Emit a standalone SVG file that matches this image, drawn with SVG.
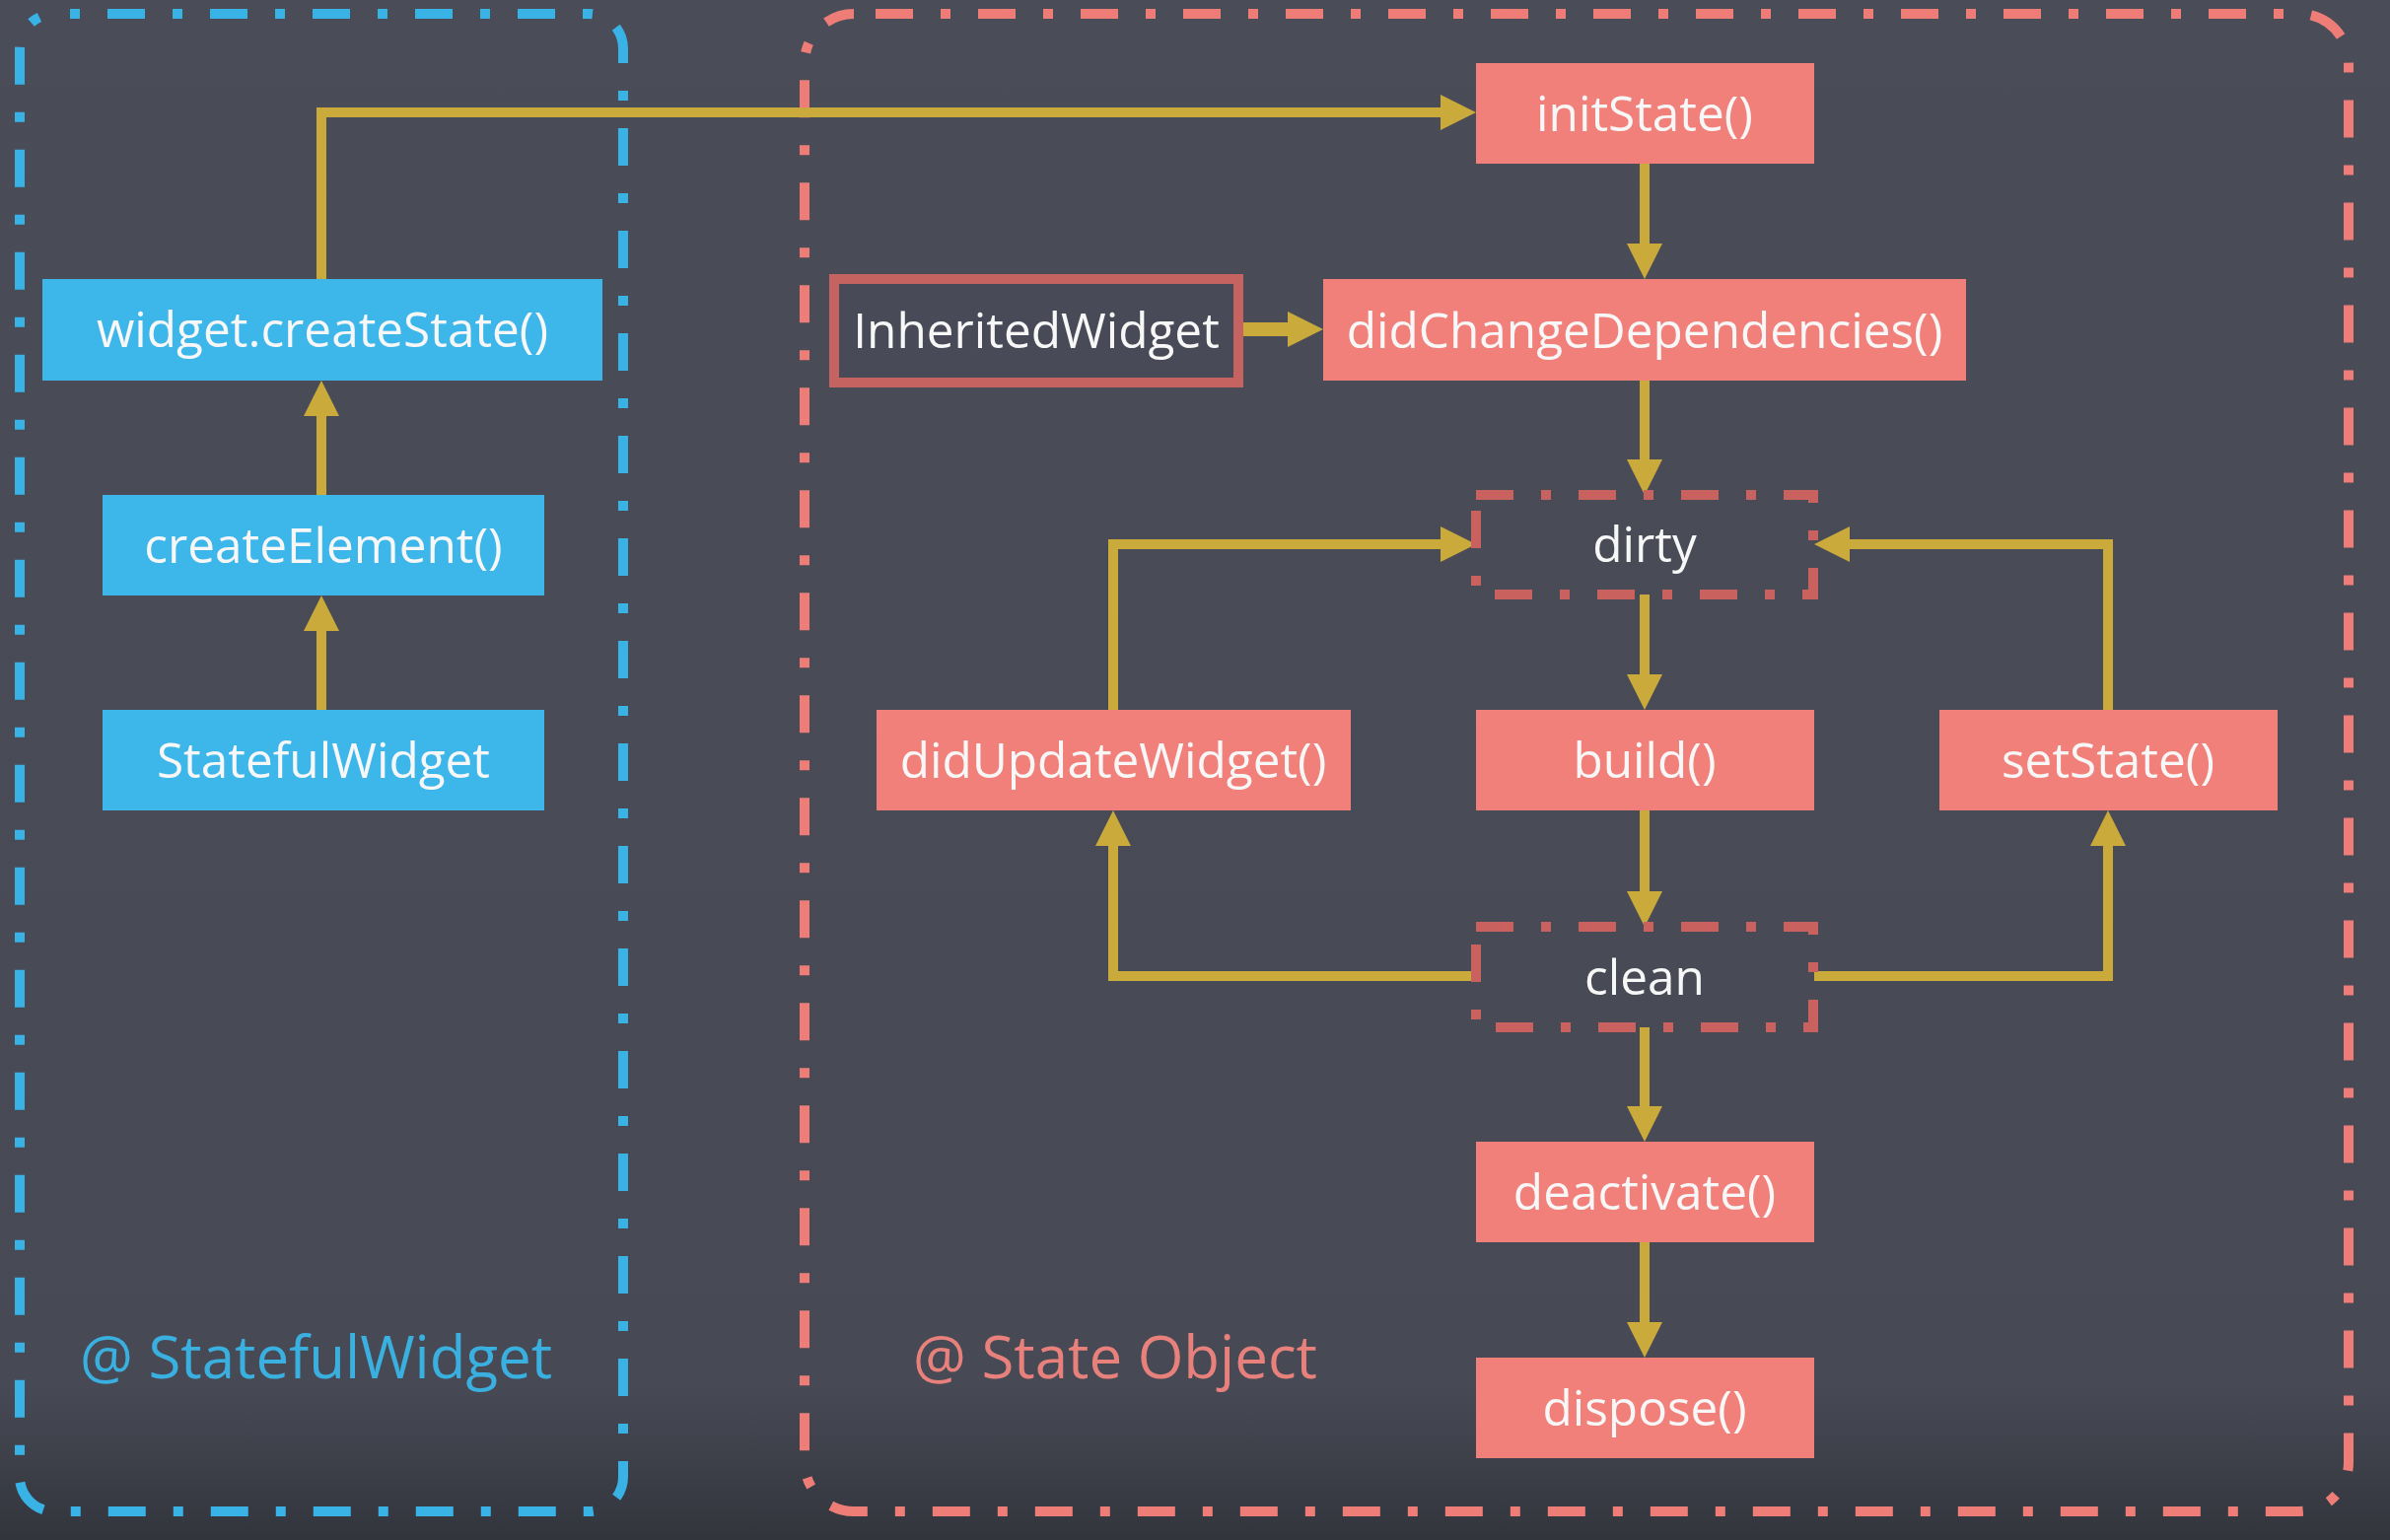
<svg xmlns="http://www.w3.org/2000/svg" width="2424" height="1562" viewBox="0 0 2424 1562">
<defs>
<linearGradient id="bg" x1="0" y1="0" x2="0" y2="1">
<stop offset="0" stop-color="#4a4d58"/>
<stop offset="0.9" stop-color="#474a55"/>
<stop offset="1" stop-color="#33353d"/>
</linearGradient>
<marker id="arr" markerUnits="userSpaceOnUse" markerWidth="36" markerHeight="36" viewBox="0 0 36 36" refX="6" refY="18" orient="auto">
<path d="M0,0 L36,18 L0,36 Z" fill="#c9aa3a"/>
</marker>
<style>
.blue{fill:#3db6ea}
.red{fill:#f2807a}
.t{font-family:"Open Sans","Noto Sans","Liberation Sans",sans-serif;font-size:49.5px;fill:#f7f7f7;text-anchor:middle}
.lbl{font-family:"Open Sans","Noto Sans","Liberation Sans",sans-serif;font-size:60px}
.frame{fill:none;stroke-width:10;stroke-dasharray:38 28 10 28}
.state{fill:none;stroke:#c9625f;stroke-width:10;stroke-dasharray:38 28 10 28}
.c{fill:none;stroke:#c9aa3a;stroke-width:10;marker-end:url(#arr)}
</style>
</defs>
<rect x="0" y="0" width="2424" height="1562" fill="url(#bg)"/>

<g id="frame-statefulwidget">
<rect class="frame" x="20" y="14" width="612" height="1519" rx="35" ry="35" stroke="#39b2e6" stroke-dashoffset="50"/>
<text class="lbl" x="81" y="1398" fill="#3ab0e0">@ StatefulWidget</text>
</g>
<g id="frame-stateobject">
<rect class="frame" x="816" y="14" width="1566" height="1519" rx="50" ry="50" stroke="#ee7d78" stroke-dashoffset="82"/>
<text class="lbl" x="926" y="1398" fill="#e8817c">@ State Object</text>
</g>

<g id="connectors">
<path class="c" d="M326,283 V114 H1467"/>
<path class="c" d="M326,502 V416"/>
<path class="c" d="M326,720 V634"/>
<path class="c" d="M1668,166 V253"/>
<path class="c" d="M1261,334 H1312" style="stroke-width:14"/>
<path class="c" d="M1668,386 V472"/>
<path class="c" d="M1668,603 V690"/>
<path class="c" d="M1668,822 V910"/>
<path class="c" d="M1668,1042 V1128"/>
<path class="c" d="M1668,1260 V1347"/>
<path class="c" d="M1129,720 V552 H1467"/>
<path class="c" d="M2138,720 V552 H1870"/>
<path class="c" d="M1497,990 H1129 V852"/>
<path class="c" d="M1840,990 H2138 V852"/>
</g>

<g id="node-widget-createstate">
<rect class="blue" x="43" y="283" width="568" height="103"/>
<text class="t" x="327" y="352">widget.createState()</text>
</g>
<g id="node-createelement">
<rect class="blue" x="104" y="502" width="448" height="102"/>
<text class="t" x="328" y="571">createElement()</text>
</g>
<g id="node-statefulwidget">
<rect class="blue" x="104" y="720" width="448" height="102"/>
<text class="t" x="328" y="789">StatefulWidget</text>
</g>

<g id="node-initstate">
<rect class="red" x="1497" y="64" width="343" height="102"/>
<text class="t" x="1668" y="133">initState()</text>
</g>
<g id="node-inheritedwidget">
<rect x="846" y="283" width="410" height="105" fill="#484b57" stroke="#c46360" stroke-width="10"/>
<text class="t" x="1051" y="353">InheritedWidget</text>
</g>
<g id="node-didchangedependencies">
<rect class="red" x="1342" y="283" width="652" height="103"/>
<text class="t" x="1668" y="353">didChangeDependencies()</text>
</g>
<g id="node-dirty">
<rect class="state" x="1497" y="502" width="342" height="101"/>
<text class="t" x="1668" y="570">dirty</text>
</g>
<g id="node-didupdatewidget">
<rect class="red" x="889" y="720" width="481" height="102"/>
<text class="t" x="1129" y="789">didUpdateWidget()</text>
</g>
<g id="node-build">
<rect class="red" x="1497" y="720" width="343" height="102"/>
<text class="t" x="1668" y="789">build()</text>
</g>
<g id="node-setstate">
<rect class="red" x="1967" y="720" width="343" height="102"/>
<text class="t" x="2138" y="789">setState()</text>
</g>
<g id="node-clean">
<rect class="state" x="1497" y="940" width="342" height="102"/>
<text class="t" x="1668" y="1009">clean</text>
</g>
<g id="node-deactivate">
<rect class="red" x="1497" y="1158" width="343" height="102"/>
<text class="t" x="1668" y="1227">deactivate()</text>
</g>
<g id="node-dispose">
<rect class="red" x="1497" y="1377" width="343" height="102"/>
<text class="t" x="1668" y="1446">dispose()</text>
</g>
</svg>
